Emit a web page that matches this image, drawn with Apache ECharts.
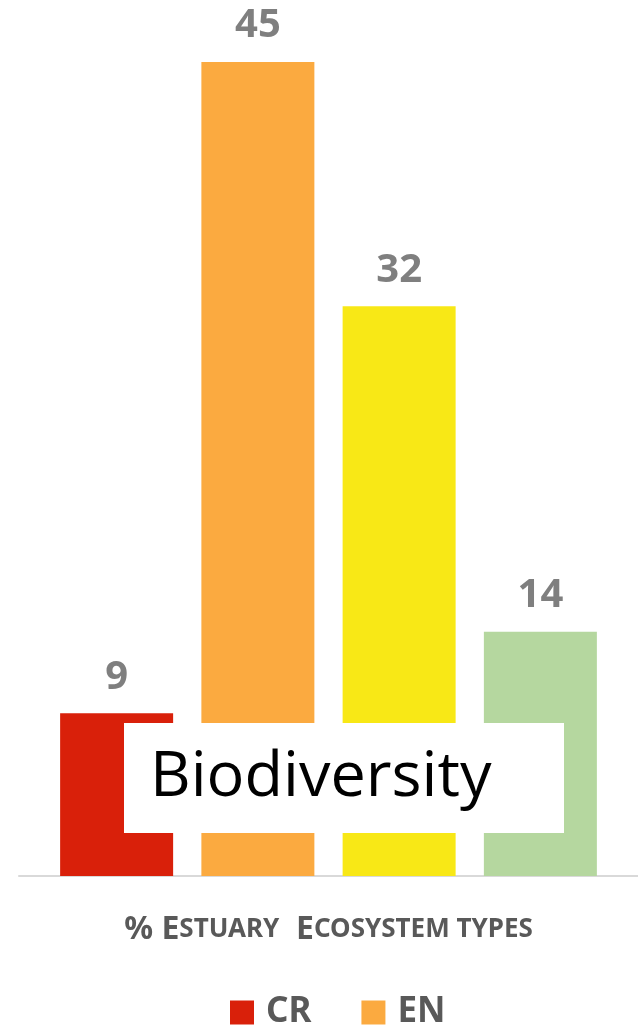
<!DOCTYPE html>
<html>
<head>
<meta charset="utf-8">
<script src="https://cdn.jsdelivr.net/npm/echarts@6/dist/echarts.min.js"></script>
<style>
  html, body { margin: 0; padding: 0; background: #fff; }
  #main { width: 638px; height: 1029px; }
</style>
</head>
<body>
<div id="main"></div>
<script>
// threat categories, one bar each
const seriesNames = ['CR', 'EN', 'VU', 'NT'];
const values = [9, 45, 31.5, 13.5];
const colors = ['#d9200a', '#fbaa40', '#f8e816', '#b5d79f'];
const legendItems = ['CR', 'EN'];
const categories = [''];

const chart = echarts.init(document.getElementById('main'));

const series = seriesNames.map(function (name, i) {
  return {
    name: name,
    type: 'bar',
    barWidth: 113,
    barGap: '25%',
    itemStyle: { color: colors[i] },
    label: {
      show: true,
      position: 'top',
      distance: 16,
      color: '#7f7f7f',
      fontSize: 40,
      fontWeight: 'bold',
      fontFamily: 'Noto Sans',
      formatter: function (p) { return Math.round(p.value); }
    },
    data: [values[i]]
  };
});

const option = {
  animation: false,
  backgroundColor: '#fff',
  grid: { left: 19, right: 0, top: 62, bottom: 153 },
  legend: {
    data: legendItems,
    bottom: -6,
    left: 225,
    itemWidth: 24,
    itemHeight: 24,
    itemGap: 50,
    icon: 'rect',
    textStyle: {
      color: '#595959', fontSize: 35, fontWeight: 'bold', fontFamily: 'Noto Sans',
      padding: [0, 0, 0, 7]
    }
  },
  xAxis: {
    type: 'category',
    data: categories,
    axisTick: { show: false },
    axisLabel: { show: false },
    axisLine: { lineStyle: { color: '#d9d9d9', width: 2 } },
    name: '{b|% E}{s|STUARY}{b|  E}{s|COSYSTEM TYPES}',
    nameLocation: 'middle',
    nameGap: 38,
    nameTextStyle: {
      rich: {
        b: { fontSize: 32, fontWeight: 'bold', color: '#595959', fontFamily: 'Noto Sans' },
        s: { fontSize: 26, fontWeight: 'bold', color: '#595959', fontFamily: 'Noto Sans' }
      }
    }
  },
  yAxis: { type: 'value', min: 0, max: 45, show: false },
  series: series,
  graphic: [
    {
      type: 'group',
      zlevel: 1,
      children: [
        { type: 'rect', zlevel: 1, shape: { x: 124, y: 723, width: 440, height: 110 }, style: { fill: '#fff' } },
        {
          type: 'text',
          zlevel: 1,
          style: {
            x: 150, y: 778, text: 'Biodiversity',
            fill: '#000', fontSize: 63, fontFamily: 'Open Sans',
            textVerticalAlign: 'middle'
          }
        }
      ]
    }
  ]
};
chart.setOption(option);
</script>
</body>
</html>
